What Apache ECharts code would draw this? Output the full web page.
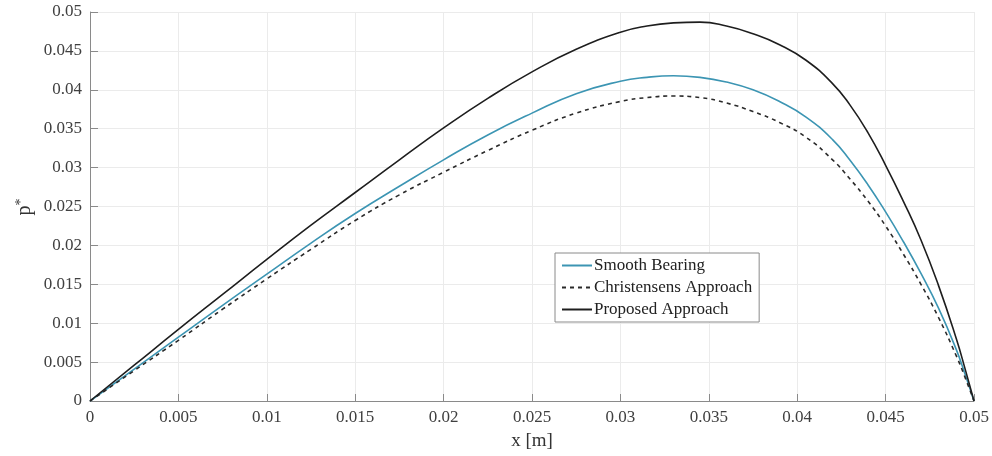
<!DOCTYPE html>
<html>
<head>
<meta charset="utf-8">
<script src="https://cdn.jsdelivr.net/npm/echarts@6/dist/echarts.min.js"></script>
<style>
  html, body { margin: 0; padding: 0; background: #fff; }
  #chart { width: 992px; height: 456px; }
</style>
</head>
<body>
<div id="chart"></div>
<script>
// Dimensionless pressure p* along the bearing, x in metres
const xs = [0, 0.0025, 0.005, 0.0075, 0.01, 0.0125, 0.015, 0.0175, 0.02, 0.0225,
  0.025, 0.0275, 0.03, 0.0315, 0.033, 0.0345, 0.036, 0.0375, 0.039, 0.0405,
  0.042, 0.043, 0.044, 0.045, 0.046, 0.047, 0.048, 0.049, 0.0495, 0.05];

const smoothBearing = [0, 0.0041, 0.0082, 0.0123, 0.0163, 0.0203, 0.0241, 0.0276, 0.0310, 0.0342,
  0.0370, 0.0395, 0.0411, 0.0416, 0.0418, 0.0416, 0.0410, 0.0400, 0.0385, 0.0365,
  0.0336, 0.0309, 0.0278, 0.0243, 0.0205, 0.0164, 0.0119, 0.0066, 0.0034, 0];

const christensens = [0, 0.0039, 0.0078, 0.0118, 0.0157, 0.0195, 0.0232, 0.0265, 0.0294, 0.0322,
  0.0348, 0.0370, 0.0385, 0.0390, 0.0392, 0.0390, 0.0383, 0.0372, 0.0358, 0.0339,
  0.0310, 0.0285, 0.0257, 0.0225, 0.0189, 0.0150, 0.0107, 0.0058, 0.0030, 0];

const proposed = [0, 0.0046, 0.0092, 0.0137, 0.0182, 0.0226, 0.0268, 0.0310, 0.0351, 0.0389,
  0.0423, 0.0452, 0.0474, 0.0482, 0.0486, 0.0487, 0.0482, 0.0472, 0.0458, 0.0438,
  0.0408, 0.0380, 0.0345, 0.0303, 0.0257, 0.0207, 0.0148, 0.0080, 0.0041, 0];

const tickFmt = v => String(+v.toFixed(3));
const pair = ys => xs.map((x, i) => [x, ys[i]]);

const FONT = '"Liberation Serif", "DejaVu Serif", serif';
const gridLine = { show: true, lineStyle: { color: '#ebebeb', width: 1 } };
const axisLine = { show: true, onZero: false, lineStyle: { color: '#8a8a8a', width: 1 } };

const chart = echarts.init(document.getElementById('chart'));
chart.setOption({
  animation: false,
  backgroundColor: '#ffffff',
  grid: { left: 90, right: 18, top: 12, bottom: 54, containLabel: false },
  // y-axis title p*, rotated, set just left of the tick labels
  graphic: [{
    type: 'text', x: 25, y: 207, rotation: Math.PI / 2,
    style: {
      text: 'p{s|*}', fontFamily: FONT, fontSize: 20, fill: '#333',
      align: 'center', verticalAlign: 'middle',
      rich: { s: { fontFamily: FONT, fontSize: 14, fill: '#333', verticalAlign: 'top', padding: [0, 0, 8, 0] } }
    }
  }],
  xAxis: {
    type: 'value', min: 0, max: 0.05, interval: 0.005,
    name: 'x [m]', nameLocation: 'middle', nameGap: 31,
    nameTextStyle: { fontFamily: FONT, fontSize: 19, color: '#333' },
    axisLine: axisLine,
    axisTick: { show: true, inside: true, length: 7, lineStyle: { color: '#8a8a8a' } },
    axisLabel: { formatter: tickFmt, fontFamily: FONT, fontSize: 17, color: '#404040', margin: 8 },
    splitLine: gridLine
  },
  yAxis: {
    type: 'value', min: 0, max: 0.05, interval: 0.005,
    axisLine: axisLine,
    axisTick: { show: true, inside: true, length: 8, lineStyle: { color: '#8a8a8a' } },
    axisLabel: { formatter: tickFmt, fontFamily: FONT, fontSize: 17, color: '#404040', margin: 8 },
    splitLine: gridLine
  },
  legend: {
    orient: 'vertical', left: 555, top: 253,
    backgroundColor: '#ffffff', borderColor: '#8a8a8a', borderWidth: 1,
    padding: [4, 7, 4, 6], itemGap: 5, itemWidth: 30, itemHeight: 16,
    itemStyle: { opacity: 0 },
    textStyle: { fontFamily: FONT, fontSize: 17, color: '#222', padding: [0, 0, 0, -3] },
    data: ['Smooth Bearing', 'Christensens Approach', 'Proposed Approach']
  },
  series: [
    {
      name: 'Smooth Bearing', type: 'line', data: pair(smoothBearing),
      smooth: 0.5, symbol: 'none', color: '#3c95b3',
      lineStyle: { width: 1.6, color: '#3c95b3' }
    },
    {
      name: 'Christensens Approach', type: 'line', data: pair(christensens),
      smooth: 0.5, symbol: 'none', color: '#2a2a2a',
      lineStyle: { width: 1.6, color: '#2a2a2a', type: [4, 4] }
    },
    {
      name: 'Proposed Approach', type: 'line', data: pair(proposed),
      smooth: 0.5, symbol: 'none', color: '#1e1e1e',
      lineStyle: { width: 1.6, color: '#1e1e1e' }
    }
  ]
});
</script>
</body>
</html>
